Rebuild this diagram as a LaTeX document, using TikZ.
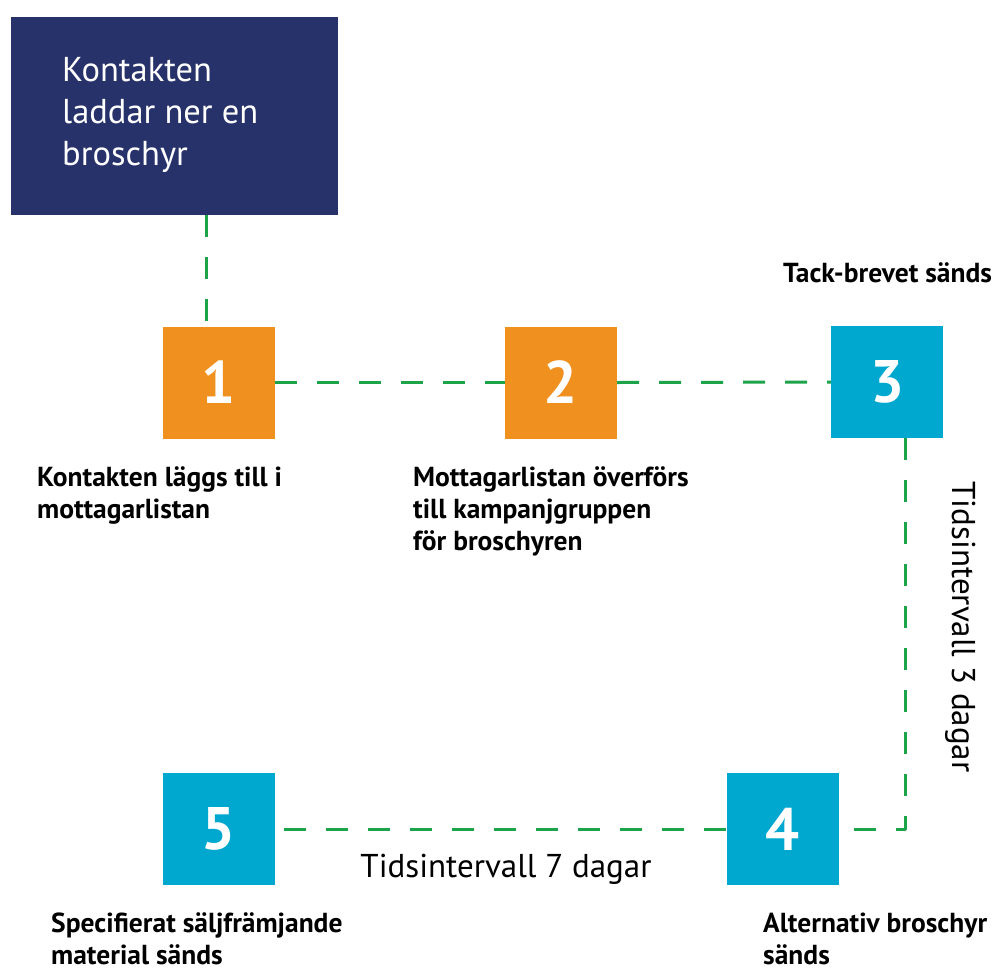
\documentclass[tikz,border=0pt]{standalone}
\usepackage{fontspec}
\setmainfont{PT Sans}
\definecolor{navy}{HTML}{27326B}
\definecolor{stepor}{HTML}{F0901E}
\definecolor{stepcy}{HTML}{00A8D0}
\definecolor{linkgr}{HTML}{1DA34A}
\tikzset{
  numbox/.style={minimum width=112pt, minimum height=112pt, inner sep=0pt,
    text=white, font=\bfseries\fontsize{60}{60}\selectfont},
  orbox/.style={numbox, fill=stepor},
  cybox/.style={numbox, fill=stepcy},
  caption/.style={anchor=base west, inner sep=0pt, align=left,
    font=\bfseries\fontsize{27.5}{32}\selectfont},
  interval/.style={inner sep=0pt, font=\fontsize{33}{33}\selectfont},
  link/.style={draw=linkgr, line width=3pt, dash pattern=on 22pt off 20pt}
}
\begin{document}
\begin{tikzpicture}[x=1pt, y=-1pt]
  \useasboundingbox (0,0) rectangle (1003,972);

  % start box (multi-line text: base anchor sits on the last line)
  \node[fill=navy, minimum width=327pt, minimum height=198pt, inner sep=0pt,
        anchor=north west] (start) at (11,17) {};
  \node[anchor=base west, inner sep=0pt, align=left, text=white,
        font=\fontsize{34.5}{42}\selectfont] (starttxt) at (62,165)
        {Kontakten\\laddar ner en\\broschyr};

  % numbered steps
  \node[orbox] (s1) at (219,382.5) {1};
  \node[orbox] (s2) at (561,382.5) {2};
  \node[cybox] (s3) at (887,382) {3};
  \node[cybox] (s4) at (782.5,829) {4};
  \node[cybox] (s5) at (219,829) {5};

  % connectors
  \coordinate (c0) at (206,215);
  \coordinate (c3) at (905,438);
  \coordinate (c4) at (905,829);
  \draw[link] (c0) -- (c0 |- s1.north);
  \draw[link] (s1.east) -- (s2.west);
  \draw[link] (s2.east) -- (s3.west);
  \draw[link, line join=round] (c3) -- (c4) -- (s4.east);
  \draw[link] (s4.west) -- (s5.east);

  % captions
  \node[caption] (l1) at (37,518) {Kontakten läggs till i\\mottagarlistan};
  \node[caption] (l2) at (413,550) {Mottagarlistan överförs\\till kampanjgruppen\\för broschyren};
  \node[caption] (l3) at (783,282) {Tack-brevet sänds};
  \node[caption] (l4) at (763,964) {Alternativ broschyr\\sänds};
  \node[caption] (l5) at (51,964) {Specifierat säljfrämjande\\material sänds};

  % interval labels
  \node[interval, anchor=base] (i7) at (506,877) {Tidsintervall 7 dagar};
  \node[interval, rotate=-90, anchor=base] (i3) at (952,627) {Tidsintervall 3 dagar};
\end{tikzpicture}
\end{document}
